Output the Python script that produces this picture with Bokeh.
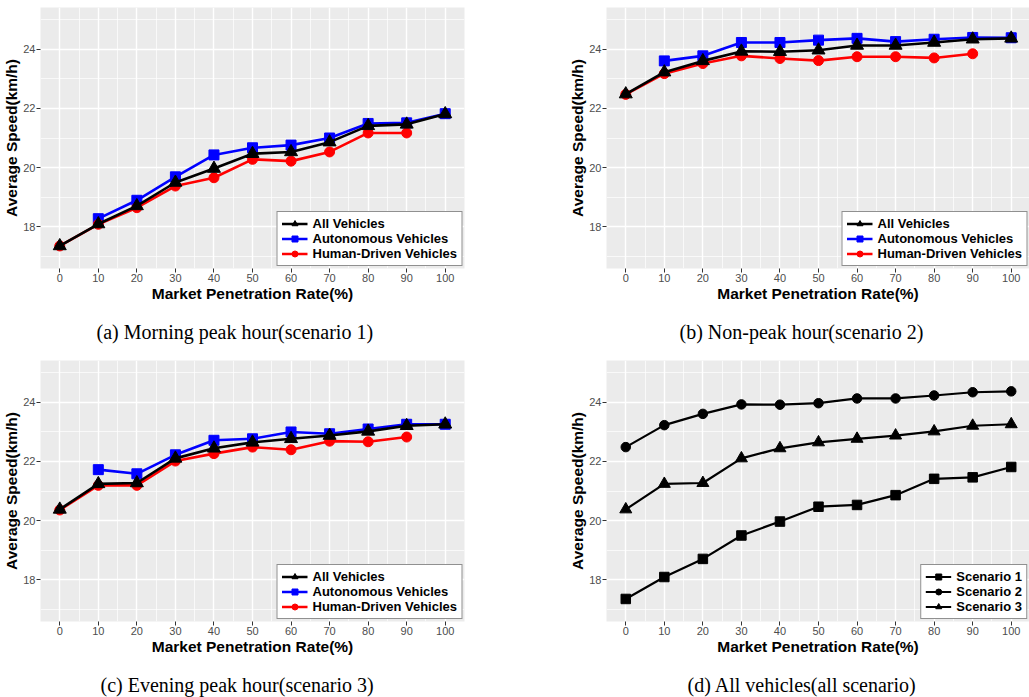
from bokeh.plotting import figure
from bokeh.models import FixedTicker, Legend, LegendItem, Range1d, Title
from bokeh.layouts import column, row
from bokeh.embed import file_html
from bokeh.resources import INLINE

# ---------------- data ----------------
rates_all = [0, 10, 20, 30, 40, 50, 60, 70, 80, 90, 100]
rates_av = [10, 20, 30, 40, 50, 60, 70, 80, 90, 100]
rates_hv = [0, 10, 20, 30, 40, 50, 60, 70, 80, 90]

s1_all = [17.36, 18.10, 18.71, 19.50, 19.97, 20.47, 20.53, 20.86, 21.41, 21.46, 21.81]
s1_av = [18.28, 18.90, 19.69, 20.43, 20.67, 20.76, 21.00, 21.49, 21.51, 21.82]
s1_hv = [17.36, 18.09, 18.65, 19.38, 19.66, 20.28, 20.22, 20.53, 21.17, 21.17]

s2_all = [22.48, 23.22, 23.60, 23.92, 23.91, 23.96, 24.12, 24.12, 24.22, 24.33, 24.36]
s2_av = [23.60, 23.77, 24.22, 24.22, 24.30, 24.36, 24.25, 24.33, 24.39, 24.38]
s2_hv = [22.47, 23.17, 23.51, 23.77, 23.68, 23.61, 23.74, 23.74, 23.70, 23.84]

s3_all = [20.38, 21.24, 21.27, 22.10, 22.44, 22.64, 22.76, 22.87, 23.01, 23.20, 23.25]
s3_av = [21.72, 21.58, 22.22, 22.71, 22.76, 22.99, 22.93, 23.09, 23.25, 23.25]
s3_hv = [20.36, 21.19, 21.19, 22.01, 22.26, 22.48, 22.39, 22.68, 22.66, 22.82]

x_ticks = [0, 10, 20, 30, 40, 50, 60, 70, 80, 90, 100]
x_minor = [5, 15, 25, 35, 45, 55, 65, 75, 85, 95]
y_ticks = [18, 20, 22, 24]
y_minor = [17, 19, 21, 23, 25]

captions = [
    "(a) Morning peak hour(scenario 1)",
    "(b) Non-peak hour(scenario 2)",
    "(c) Evening peak hour(scenario 3)",
    "(d) All vehicles(all scenario)",
]
x_label = "Market Penetration Rate(%)"
y_label = "Average Speed(km/h)"

SANS = "Liberation Sans"
SERIF = "Liberation Serif"


def make_panel(width, height, border_bottom, border_right, x_end, caption, cap_offset):
    p = figure(width=width, height=height, title=None,
               output_backend="svg", toolbar_location=None,
               x_range=Range1d(-5, x_end), y_range=Range1d(16.6, 25.4),
               min_border_left=40, min_border_right=border_right,
               min_border_top=7, min_border_bottom=border_bottom)
    p.background_fill_color = "#EBEBEB"
    p.border_fill_color = "white"
    p.outline_line_color = None

    p.xaxis.ticker = FixedTicker(ticks=x_ticks, minor_ticks=x_minor)
    p.yaxis.ticker = FixedTicker(ticks=y_ticks, minor_ticks=y_minor)
    p.xaxis.axis_label = x_label
    p.yaxis.axis_label = y_label
    for ax in p.axis:
        ax.axis_line_color = None
        ax.major_tick_line_color = "#333333"
        ax.major_tick_out = 4
        ax.major_tick_in = 0
        ax.minor_tick_line_color = None
        ax.major_label_text_font = SANS
        ax.major_label_text_font_size = "11px"
        ax.major_label_text_color = "#4D4D4D"
        ax.major_label_standoff = 1
        ax.axis_label_text_font = SANS
        ax.axis_label_text_font_size = "15.5px"
        ax.axis_label_text_font_style = "bold"
        ax.axis_label_text_color = "black"
        ax.axis_label_standoff = 0
    for g in p.grid:
        g.grid_line_color = "white"
        g.grid_line_width = 1.4
        g.minor_grid_line_color = "white"
        g.minor_grid_line_width = 0.7

    # small blank gap between the axis title and the caption
    gap = Title(text=" ", text_font_size="1px", standoff=11)
    p.add_layout(gap, "below")
    cap = Title(text=caption, align="left", offset=cap_offset,
                text_font=SERIF, text_font_size="20px",
                text_font_style="normal", text_color="black", standoff=0)
    p.add_layout(cap, "below")
    return p


def series(p, x, y, color, marker, size, lw=2.6):
    l = p.line(x, y, line_color=color, line_width=lw)
    s = p.scatter(x, y, marker=marker, size=size, fill_color=color, line_color=color)
    return [l, s]


def add_legend(p, items, margin=2):
    leg = Legend(items=[LegendItem(label=lab, renderers=r) for lab, r in items],
                 location="bottom_right", margin=margin, padding=4,
                 spacing=0, glyph_width=26, glyph_height=15, label_height=15,
                 label_standoff=5, label_text_font=SANS, label_text_font_size="13px",
                 label_text_font_style="bold", label_text_color="black",
                 border_line_color="#222222", border_line_width=1.5,
                 background_fill_color="white", background_fill_alpha=1.0)
    p.add_layout(leg)


def vehicle_panel(width, height, bb, br, x_end, caption, off, all_v, av_v, hv_v):
    p = make_panel(width, height, bb, br, x_end, caption, off)
    r_av = series(p, rates_av, av_v, "#0000FF", "square", 10)
    r_hv = series(p, rates_hv, hv_v, "#FF0000", "circle", 10)
    r_all = series(p, rates_all, all_v, "black", "triangle", 13)
    add_legend(p, [("All Vehicles", r_all),
                   ("Autonomous Vehicles", r_av),
                   ("Human-Driven Vehicles", r_hv)])
    return p


X_END_R = 423 * 110 / 424 - 5

pa = vehicle_panel(566, 353, 85, 102, 105, captions[0], 56, s1_all, s1_av, s1_hv)
pb = vehicle_panel(463, 353, 85, 0, X_END_R, captions[1], 73, s2_all, s2_av, s2_hv)
pc = vehicle_panel(566, 344, 76, 102, 105, captions[2], 60, s3_all, s3_av, s3_hv)

pd = make_panel(463, 344, 76, 0, X_END_R, captions[3], 81)
r1 = series(pd, rates_all, s1_all, "black", "square", 9.5, lw=2.2)
r2 = series(pd, rates_all, s2_all, "black", "circle", 9.5, lw=2.2)
r3 = series(pd, rates_all, s3_all, "black", "triangle", 12, lw=2.2)
add_legend(pd, [("Scenario 1", r1), ("Scenario 2", r2), ("Scenario 3", r3)], margin=2)

layout = column(row(pa, pb), row(pc, pd))

open("out.html", "w").write(file_html(layout, INLINE))
